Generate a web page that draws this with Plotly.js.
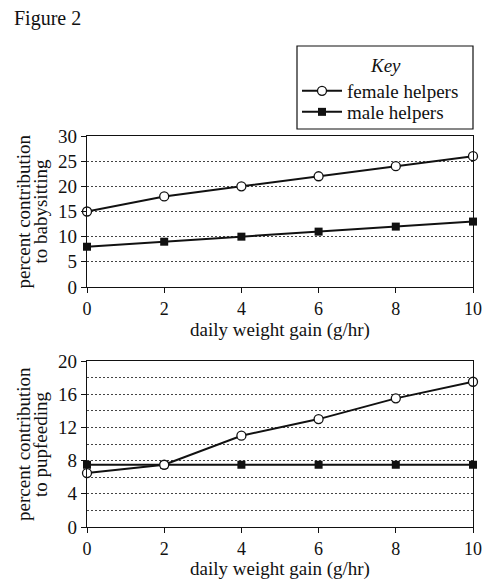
<!DOCTYPE html>
<html><head><meta charset="utf-8">
<script src="https://cdn.plot.ly/plotly-3.0.1.min.js"></script>
<style>html,body{margin:0;padding:0;background:#fff}</style>
</head><body><div id="chart" style="width:498px;height:583px"></div>
<script>
const weightGain = [0, 2, 4, 6, 8, 10];
const babysitFemale = [15, 18, 20, 22, 24, 26];
const babysitMale = [8, 9, 10, 11, 12, 13];
const pupfeedFemale = [6.5, 7.5, 11, 13, 15.5, 17.5];
const pupfeedMale = [7.5, 7.5, 7.5, 7.5, 7.5, 7.5];
const xTicks = [0, 2, 4, 6, 8, 10];
const xTitle = 'daily weight gain (g/hr)';
const babysitTitle = ['percent contribution', 'to babysitting'];
const pupfeedTitle = ['percent contribution', 'to pupfeeding'];

const FONT = '"Liberation Serif", "Times New Roman", serif';
const SZ = 19;
const TICK_SZ = 18;
const femaleMarker = {symbol: 'circle', size: 9, color: '#fff', line: {color: '#111', width: 1.3}};
const maleMarker = {symbol: 'square', size: 8, color: '#111', line: {color: '#111', width: 0}};
const lineStyle = {color: '#111', width: 2};
const GRID = {gridcolor: '#444', griddash: '2px,2px', gridwidth: 1};

const traces = [
  {x: weightGain, y: babysitFemale, xaxis: 'x', yaxis: 'y', mode: 'lines+markers', name: 'female helpers',
   line: lineStyle, marker: femaleMarker, cliponaxis: false, legend: 'legend'},
  {x: weightGain, y: babysitMale, xaxis: 'x', yaxis: 'y', mode: 'lines+markers', name: 'male helpers',
   line: lineStyle, marker: maleMarker, cliponaxis: false, legend: 'legend2'},
  {x: weightGain, y: pupfeedMale, xaxis: 'x2', yaxis: 'y2', mode: 'lines+markers', name: 'male helpers',
   line: lineStyle, marker: maleMarker, cliponaxis: false, showlegend: false},
  {x: weightGain, y: pupfeedFemale, xaxis: 'x2', yaxis: 'y2', mode: 'lines+markers', name: 'female helpers',
   line: lineStyle, marker: femaleMarker, cliponaxis: false, showlegend: false}
];

function xAxis(anchor) {
  return {
    domain: [87/498, 473/498], anchor: anchor, range: [0, 10],
    tickvals: xTicks, ticks: 'outside', ticklen: 5, tickcolor: '#111', tickwidth: 1,
    showgrid: false, zeroline: false, showline: true, linecolor: '#111', linewidth: 1.2, mirror: true,
    tickfont: {family: FONT, size: TICK_SZ, color: '#111'}
  };
}
function yAxis(anchor, dom, range, dtick, minorDtick) {
  const a = Object.assign({
    domain: dom, anchor: anchor, range: range, dtick: dtick,
    ticks: 'outside', ticklen: 5, tickcolor: '#111',
    showgrid: true,
    zeroline: false, showline: true, linecolor: '#111', linewidth: 1.2, mirror: true,
    tickfont: {family: FONT, size: SZ, color: '#111'}, ticklabelstandoff: 0
  }, GRID);
  if (minorDtick) a.minor = Object.assign({dtick: minorDtick, showgrid: true, ticks: ''}, GRID);
  return a;
}

const yDom1 = [1 - 287/583, 1 - 136/583];
const yDom2 = [1 - 527/583, 1 - 361/583];
const txt = (size, extra) => Object.assign({family: FONT, size: size, color: '#111'}, extra || {});

function titleLines(lines, dom) {
  const yc = (dom[0] + dom[1]) / 2;
  return lines.map((t, i) => ({
    text: t, xref: 'paper', yref: 'paper', x: (23 + i * 17) / 498, y: yc,
    xanchor: 'center', yanchor: 'middle', textangle: -90, showarrow: false, font: txt(SZ)
  }));
}
function xTitleAnn(yPix) {
  return {text: xTitle, xref: 'paper', yref: 'paper', x: 280/498, y: 1 - yPix/583,
    xanchor: 'center', yanchor: 'middle', showarrow: false, font: txt(SZ)};
}
function legendAt(yPix) {
  return {
    x: 297/498, y: 1 - yPix/583, xanchor: 'left', yanchor: 'middle',
    bgcolor: 'rgba(0,0,0,0)', borderwidth: 0, font: txt(SZ), itemwidth: 40, tracegroupgap: 0
  };
}

const layout = {
  width: 498, height: 583,
  margin: {l: 0, r: 0, t: 0, b: 0},
  paper_bgcolor: '#fff', plot_bgcolor: '#fff',
  font: {family: FONT, color: '#111'},
  showlegend: true,
  legend: legendAt(91),
  legend2: legendAt(112),
  xaxis: xAxis('y'),
  xaxis2: xAxis('y2'),
  yaxis: yAxis('x', yDom1, [0, 30], 5),
  yaxis2: yAxis('x2', yDom2, [0, 20], 4, 2),
  shapes: [
    {type: 'rect', xref: 'paper', yref: 'paper', x0: 297/498, x1: 473/498, y0: 1 - 129/583, y1: 1 - 46/583,
     line: {color: '#111', width: 1.2}, fillcolor: 'rgba(0,0,0,0)', layer: 'below'}
  ],
  annotations: [
    {text: 'Figure 2', xref: 'paper', yref: 'paper', x: 12/498, y: 1 - 5/583, xanchor: 'left', yanchor: 'top',
     showarrow: false, font: txt(20)},
    {text: 'Key', xref: 'paper', yref: 'paper', x: 385/498, y: 1 - 66/583, xanchor: 'center', yanchor: 'middle',
     showarrow: false, font: txt(SZ, {style: 'italic'})},
    xTitleAnn(330), xTitleAnn(569)
  ].concat(titleLines(babysitTitle, yDom1), titleLines(pupfeedTitle, yDom2))
};

Plotly.newPlot('chart', traces, layout, {displayModeBar: false, staticPlot: true});
</script>
</body></html>
